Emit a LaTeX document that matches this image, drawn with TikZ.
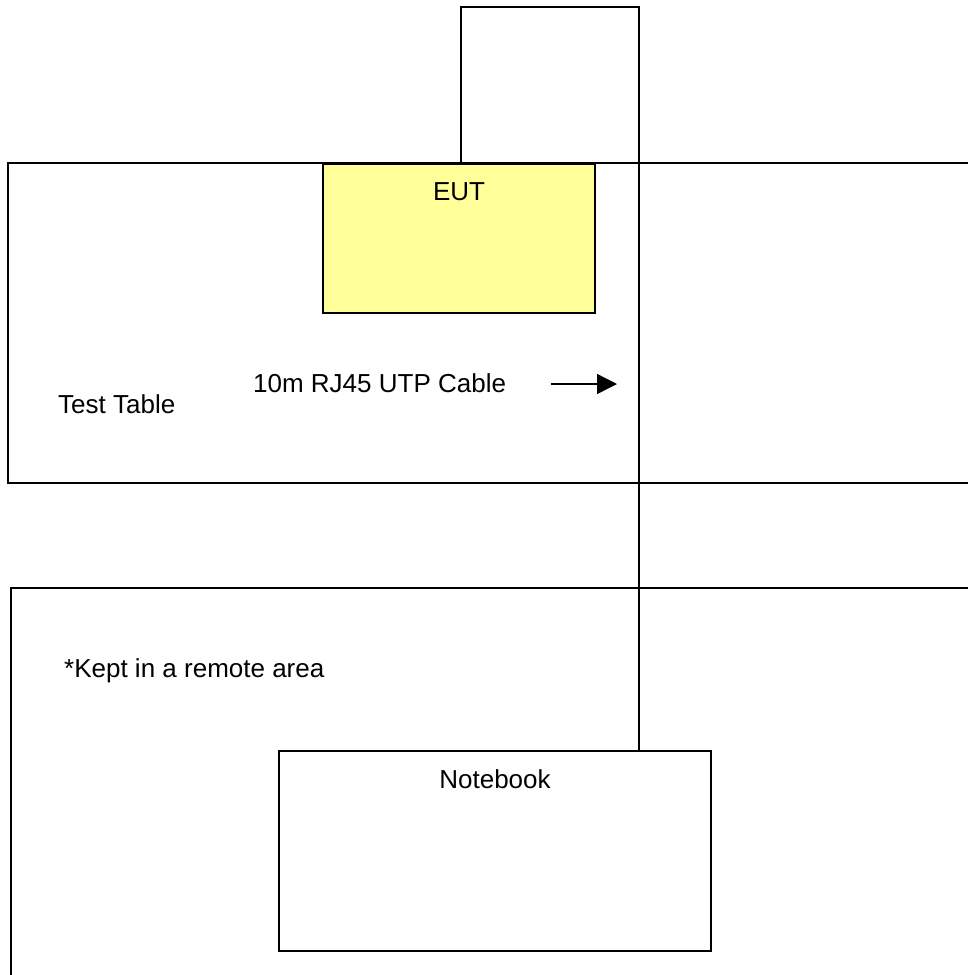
\documentclass[tikz,border=0pt]{standalone}
\usepackage{fontspec}
\setmainfont{Liberation Sans}
\usetikzlibrary{arrows.meta, positioning, calc}
\definecolor{eutyellow}{HTML}{FFFF99}
\tikzset{
    box/.style={draw, line width=1.6pt, inner sep=0pt},
    wire/.style={line width=1.6pt},
    txt/.style={font=\fontsize{26}{30}\selectfont, inner sep=0pt},
    pointer/.style={-{Triangle[length=20pt, width=20pt]}, line width=1.3pt}
}

\begin{document}
\begin{tikzpicture}[x=1pt, y=-1pt]
    \clip (0,0) rectangle (968,975);
    \useasboundingbox (0,0) rectangle (968,975);
    % Test table and remote area (both run off the right edge)
    \draw[wire] (985,163) -- (8,163) -- (8,483) -- (985,483);
    \draw[wire] (985,588) -- (11,588) -- (11,990);
    \node[txt, anchor=base west] (tabletxt) at (58,413) {Test Table};
    \node[txt, anchor=base west] (remotetxt) at (64,677) {*Kept in a remote area};
    % Equipment under test
    \node[box, fill=eutyellow, minimum width=272pt, minimum height=149pt] (eut) at (459,238.5) {};
    \node[txt, anchor=base] (euttxt) at ([yshift=-37.5pt]eut.north) {EUT};
    % Notebook
    \node[box, minimum width=432pt, minimum height=200pt] (notebook) at (495,851) {};
    \node[txt, anchor=base] (notebooktxt) at ([yshift=-38pt]notebook.north) {Notebook};
    % UTP cable from EUT to notebook
    \coordinate (cabletop) at (639,7);
    \draw[wire] ([xshift=2pt]eut.north) |- (cabletop) -- (cabletop |- notebook.north);
    \node[txt, anchor=base west] (cabletxt) at (253,392) {10m RJ45 UTP Cable};
    \coordinate (arrowtail) at (551,384);
    \coordinate (arrowtip) at (617,384);
    \draw[pointer] (arrowtail) -- (arrowtip);
\end{tikzpicture}
\end{document}
